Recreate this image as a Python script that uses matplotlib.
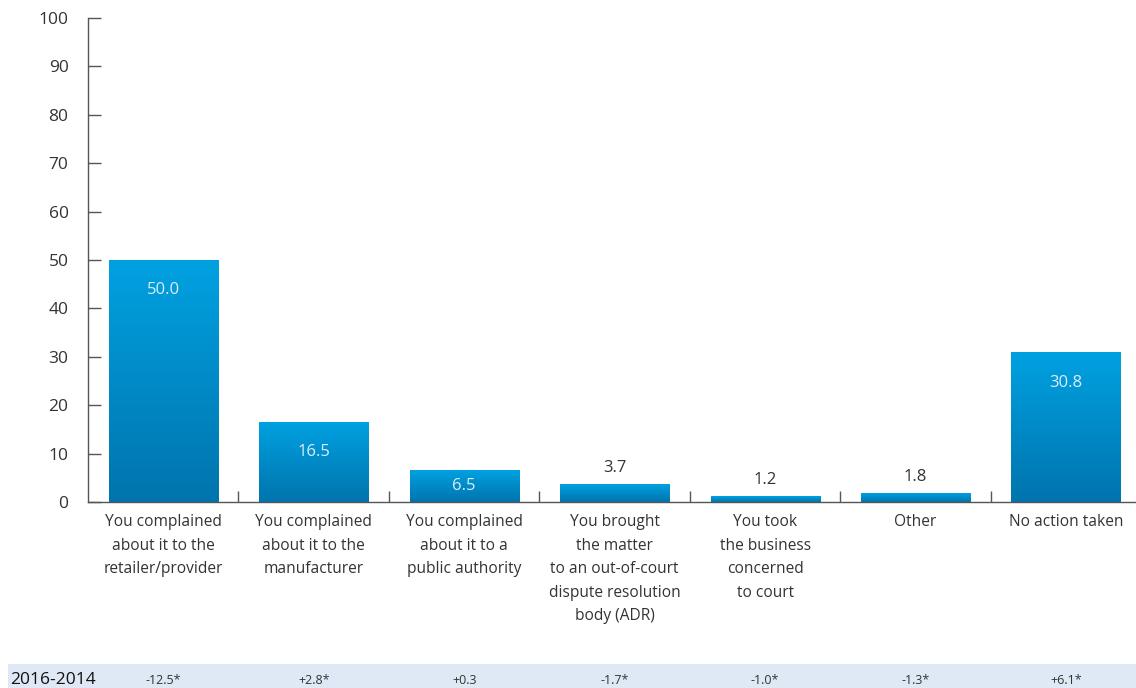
import matplotlib.pyplot as plt
import numpy as np
from matplotlib.colors import LinearSegmentedColormap
from matplotlib.patches import Rectangle
from matplotlib.transforms import blended_transform_factory

categories = [
    "You complained\nabout it to the\nretailer/provider",
    "You complained\nabout it to the\nmanufacturer",
    "You complained\nabout it to a\npublic authority",
    "You brought\nthe matter\nto an out-of-court\ndispute resolution\nbody (ADR)",
    "You took\nthe business\nconcerned\nto court",
    "Other",
    "No action taken",
]
values = [50.0, 16.5, 6.5, 3.7, 1.2, 1.8, 30.8]
change_label = "2016-2014"
changes = ["-12.5*", "+2.8*", "+0.3", "-1.7*", "-1.0*", "-1.3*", "+6.1*"]

plt.rcParams["font.family"] = ["Open Sans", "DejaVu Sans"]
text_col = "#333333"
spine_col = "#555555"

fig = plt.figure(figsize=(11.36, 6.88), dpi=100)
ax = fig.add_axes([88 / 1136, 186 / 688, 1 - 88 / 1136, 484 / 688])

x = np.arange(len(values))
width = 0.725
grad = LinearSegmentedColormap.from_list("bar", ["#0074ad", "#00a1e1"])
ramp = np.linspace(0, 1, 256).reshape(-1, 1)

for xi, v in zip(x, values):
    ax.imshow(ramp, cmap=grad, origin="lower", aspect="auto",
              extent=(xi - width / 2, xi + width / 2, 0, v), zorder=2)
    bar_px = v * 4.84
    if v > 5:
        off = -min(30, bar_px / 2)
        ax.annotate(f"{v:.1f}", (xi, v), xytext=(0, off), textcoords="offset pixels",
                    ha="center", va="center", fontsize=12, color="#dbeef9", zorder=3)
    else:
        ax.annotate(f"{v:.1f}", (xi, v), xytext=(0, 8), textcoords="offset pixels",
                    ha="center", va="bottom", fontsize=12, color=text_col, zorder=3)

ax.set_xlim(-0.5, 6.465)
ax.set_ylim(0, 100)
ax.set_yticks(np.arange(0, 101, 10))
ax.tick_params(axis="y", direction="in", length=9, width=1, color=spine_col,
               labelsize=12.5, labelcolor=text_col, pad=14)
ax.set_xticks(x)
ax.set_xticklabels(categories, fontsize=11.2, color=text_col, linespacing=1.62)
ax.tick_params(axis="x", which="major", length=0, pad=9)
ax.set_xticks(x[:-1] + 0.5, minor=True)
ax.tick_params(axis="x", which="minor", direction="in", length=8, width=1, color=spine_col)

for side in ("top", "right"):
    ax.spines[side].set_visible(False)
for side in ("left", "bottom"):
    ax.spines[side].set_color(spine_col)
    ax.spines[side].set_linewidth(1)

# change versus previous wave, shown as a shaded strip under the chart
fig.patches.append(Rectangle((8 / 1136, 0), 1, 24 / 688, transform=fig.transFigure,
                             facecolor="#dfe9f5", edgecolor="none", zorder=-1))
fig.text(10 / 1136, 8 / 688, change_label, fontsize=12.5, color="#111111",
         ha="left", va="center")
trans = blended_transform_factory(ax.transData, fig.transFigure)
for xi, c in zip(x, changes):
    ax.text(xi, 8 / 688, c, transform=trans, fontsize=9, color=text_col,
            ha="center", va="center", clip_on=False)

fig.savefig("out.png", dpi=100)
